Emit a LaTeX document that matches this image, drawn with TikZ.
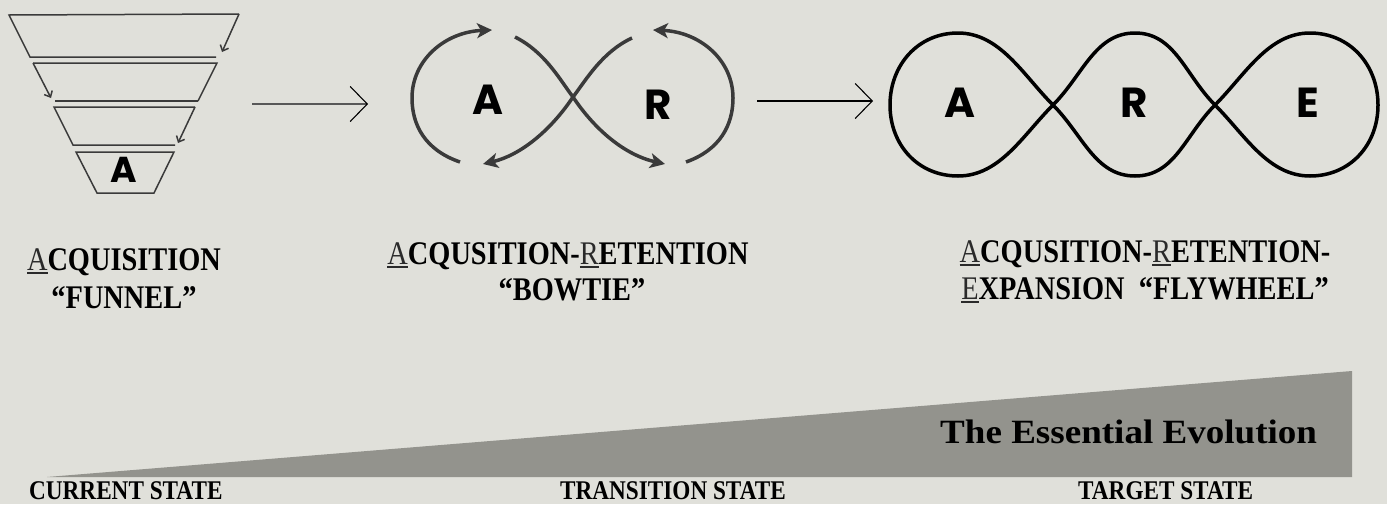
\documentclass[tikz,border=0pt]{standalone}
\usepackage{fontspec}
\usetikzlibrary{arrows.meta}
\newfontfamily\tf[FakeStretch=0.86]{Liberation Serif}
\newfontfamily\evofont{Liberation Serif}
\newfontfamily\lf{Poppins}
\definecolor{bg}{HTML}{E0E0DA}
\definecolor{wedge}{HTML}{93938D}
\definecolor{ink}{HTML}{3A3A3A}
\definecolor{ulc}{HTML}{2A2A2A}
\newcommand\ulet[1]{{\mdseries\color{ulc}\setbox0\hbox{#1}\rlap{\rule[-4pt]{\wd0}{1.8pt}}\box0}}
\tikzset{
  fun/.style={draw=ink, line width=1.5pt},
  funarr/.style={fun, -{Straight Barb[length=5pt,width=9pt]}},
  bow/.style={draw=ink, line width=3.5pt, -{Stealth[length=15pt,width=15pt,inset=4pt]}},
  fly/.style={draw=black, line width=3.5pt},
  conn/.style={line width=1.5pt, -{Straight Barb[length=17pt,width=35pt,line width=1.1pt,color=black]}},
  letter/.style={font=\lf\bfseries\fontsize{42}{48}\selectfont, inner sep=0pt},
  titletxt/.style={font=\tf\bfseries\fontsize{33}{38}\selectfont, anchor=base, inner sep=0pt},
  statetxt/.style={font=\tf\bfseries\fontsize{27}{32}\selectfont, anchor=base west, inner sep=0pt},
}
\begin{document}
\begin{tikzpicture}[x=1pt,y=-1pt]
\fill[bg] (0,0) rectangle (1387,504);
\useasboundingbox (0,0) rectangle (1387,504);

% ---------- funnel ----------
\draw[fun] (216,57) -- (30,57) -- (9,15) -- (239,14);
\draw[funarr] (239,14) -- (222,52);
\draw[fun] (198,101) -- (217,63) -- (33,63);
\draw[funarr] (33,63) -- (51,98);
\draw[fun] (55,101) -- (198,101);
\draw[fun] (175,145) -- (73,145) -- (54,107) -- (195,107);
\draw[funarr] (195,107) -- (178,143);
\draw[fun] (76,152) -- (174,152) -- (154,193) -- (97,193) -- cycle;
\node[letter, font=\lf\bfseries\fontsize{36}{40}\selectfont] (fA) at (124,170) {A};

% ---------- bowtie ----------
\draw[bow] (460,162) .. controls (425,150) and (412,125) .. (412,98)
                     .. controls (412,60) and (445,32) .. (492,30);
\draw[bow] (515,37) .. controls (545,52) and (560,80) .. (573,97)
                    .. controls (595,130) and (625,155) .. (665,164);
\draw[bow] (632,38) .. controls (602,52) and (586,80) .. (573,97)
                    .. controls (551,130) and (521,155) .. (483,164);
\draw[bow] (686,162) .. controls (720,150) and (733,125) .. (733,98)
                     .. controls (733,60) and (700,32) .. (653,30);
\node[letter] (bA) at (488,100) {A};
\node[letter] (bR) at (658,105) {R};

% ---------- flywheel ----------
\draw[fly] (1053,105) .. controls (1023,75) and (1000,33) .. (958,33)
  .. controls (918,33) and (890,65) .. (890,105)
  .. controls (890,145) and (918,176) .. (958,176)
  .. controls (1000,176) and (1023,135) .. (1053,105)
  .. controls (1083,75) and (1095,33) .. (1135,33)
  .. controls (1175,33) and (1185,75) .. (1215,105)
  .. controls (1245,135) and (1268,176) .. (1310,176)
  .. controls (1350,176) and (1378,145) .. (1378,105)
  .. controls (1378,65) and (1350,33) .. (1310,33)
  .. controls (1268,33) and (1245,75) .. (1215,105)
  .. controls (1185,135) and (1175,176) .. (1135,176)
  .. controls (1095,176) and (1083,135) .. (1053,105) -- cycle;
\node[letter] (wA) at (960,103) {A};
\node[letter] (wR) at (1134,103) {R};
\node[letter] (wE) at (1308,103) {E};

% ---------- connectors ----------
\coordinate (c1s) at (252,104);
\coordinate (c1e) at (368,104);
\coordinate (c2s) at (757,101);
\coordinate (c2e) at (873,101);
\draw[conn, draw=ink!85] (c1s) -- (c1e);
\draw[conn, draw=black, line width=1.3pt] (c2s) -- (c2e);

% ---------- titles ----------
\node[titletxt] (t1a) at (124,270) {\ulet{A}CQUISITION};
\node[titletxt] (t1b) at (124,308) {“FUNNEL”};
\node[titletxt] (t2a) at (568,264) {\ulet{A}CQUSITION-\ulet{R}ETENTION};
\node[titletxt] (t2b) at (572,300) {“BOWTIE”};
\node[titletxt] (t3a) at (1145,262) {\ulet{A}CQUSITION-\ulet{R}ETENTION-};
\node[titletxt] (t3b) at (1145,299) {\ulet{E}XPANSION\ \ “FLYWHEEL”};

% ---------- evolution wedge ----------
\coordinate (w1) at (47,477);
\coordinate (w2) at (1352,371);
\coordinate (w3) at (1352,477);
\fill[wedge] (w1) -- (w2) -- (w3) -- cycle;
\node[anchor=base west, inner sep=0pt, font=\evofont\bfseries\fontsize{34}{40}\selectfont] (evo) at (940,443) {\scalebox{1.09}[1]{The Essential Evolution}};

\node[statetxt] (s1) at (29,499) {CURRENT STATE};
\node[statetxt] (s2) at (560,499) {TRANSITION STATE};
\node[statetxt] (s3) at (1078,499) {TARGET STATE};
\end{tikzpicture}
\end{document}
